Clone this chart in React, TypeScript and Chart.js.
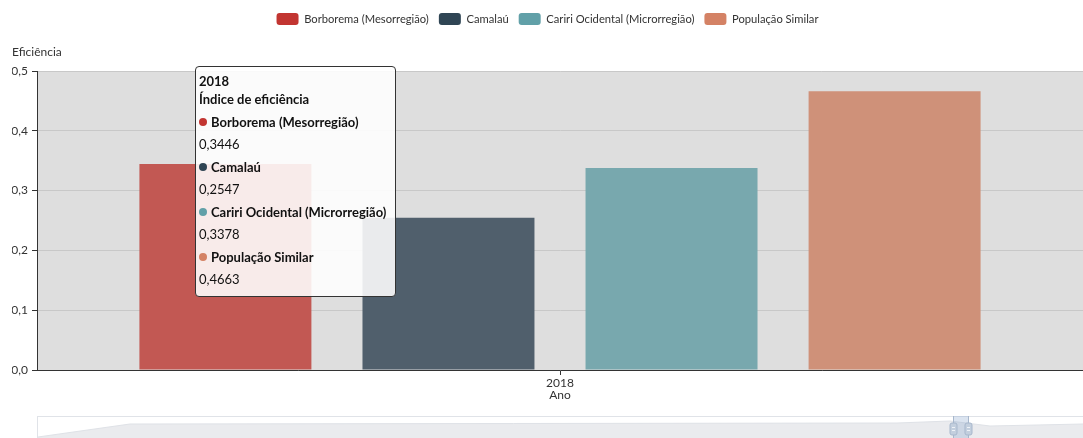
import React, { useEffect, useRef } from "react";
import { Chart, registerables } from "chart.js";

Chart.register(...registerables);

// ---- data ----
const categories = ["2018"];
const seriesNames = [
  "Borborema (Mesorregião)",
  "Camalaú",
  "Cariri Ocidental (Microrregião)",
  "População Similar",
];
const borboremaValues = [0.3446];
const camalauValues = [0.2547];
const caririValues = [0.3378];
const populacaoValues = [0.4663];
const yTickValues = [0, 0.1, 0.2, 0.3, 0.4, 0.5];
const yAxisName = "Eficiência";
const xAxisName = "Ano";
const tooltipSubtitle = "Índice de eficiência";

// ---- styles ----
const barColors = ["#c25853", "#505f6c", "#78a8ae", "#cf9179"];
const legendColors = ["#c23531", "#2f4554", "#61a0a8", "#d48265"];
const FONT = "Lato, 'Noto Sans', sans-serif";
const W = 1083;
const H = 438;

const fmt1 = (v: number) => v.toFixed(1).replace(".", ",");
const fmt4 = (v: number) => v.toFixed(4).replace(".", ",");

const plotBg = {
  id: "plotBg",
  beforeDraw(chart: any) {
    const { ctx, chartArea: a } = chart;
    ctx.save();
    ctx.fillStyle = "#dedede";
    ctx.fillRect(a.left, a.top, a.right - a.left, a.bottom - a.top);
    ctx.restore();
  },
};

const slider = {
  id: "slider",
  afterDraw(chart: any) {
    const { ctx, chartArea: a } = chart;
    const left = a.left;
    const right = chart.width;
    const top = a.bottom + 46;
    const bottom = chart.height;
    ctx.save();
    // frame
    ctx.fillStyle = "#ffffff";
    ctx.fillRect(left, top, right - left, bottom - top);
    ctx.strokeStyle = "#e0e3e8";
    ctx.lineWidth = 1;
    ctx.strokeRect(left + 0.5, top + 0.5, right - left + 2, bottom - top + 2);
    // data shadow
    const pts: [number, number][] = [
      [left + 1, bottom - 1],
      [left + 93, top + 8],
      [left + 860, top + 7],
      [left + 913, top + 5],
      [left + 953, top + 10],
      [right, top + 8],
    ];
    ctx.beginPath();
    ctx.moveTo(pts[0][0], pts[0][1]);
    for (const p of pts) ctx.lineTo(p[0], p[1]);
    ctx.lineTo(right, bottom);
    ctx.lineTo(left + 1, bottom);
    ctx.closePath();
    ctx.fillStyle = "#eaebee";
    ctx.fill();
    ctx.beginPath();
    ctx.moveTo(pts[0][0], pts[0][1]);
    for (const p of pts) ctx.lineTo(p[0], p[1]);
    ctx.strokeStyle = "#dfe2e7";
    ctx.stroke();
    // selected window
    const h1 = left + 916;
    const h2 = left + 931;
    ctx.fillStyle = "rgba(135,165,205,0.3)";
    ctx.fillRect(h1, top, h2 - h1, bottom - top);
    for (const hx of [h1, h2]) {
      ctx.strokeStyle = "#a7b7cc";
      ctx.beginPath();
      ctx.moveTo(hx + 0.5, top);
      ctx.lineTo(hx + 0.5, bottom);
      ctx.stroke();
      ctx.fillStyle = "#c3cfde";
      ctx.strokeStyle = "#a7b7cc";
      ctx.beginPath();
      const rx = hx - 3;
      const ry = top + 7;
      ctx.roundRect(rx, ry, 7, 12, 2);
      ctx.fill();
      ctx.stroke();
      ctx.strokeStyle = "#eef2f7";
      ctx.beginPath();
      ctx.moveTo(rx + 2, ry + 4.5);
      ctx.lineTo(rx + 5, ry + 4.5);
      ctx.moveTo(rx + 2, ry + 7.5);
      ctx.lineTo(rx + 5, ry + 7.5);
      ctx.stroke();
    }
    ctx.restore();
  },
};

export default function App() {
  const canvasRef = useRef<HTMLCanvasElement | null>(null);
  const tipRef = useRef<HTMLDivElement | null>(null);

  useEffect(() => {
    const canvas = canvasRef.current!;
    const seriesData = [borboremaValues, camalauValues, caririValues, populacaoValues];

    const external = (context: any) => {
      const { chart, tooltip } = context;
      const el = tipRef.current;
      if (!el) return;
      if (tooltip.opacity === 0) {
        el.style.display = "none";
        return;
      }
      const titleLines: string[] = tooltip.title || [];
      let html = "";
      for (const t of titleLines) html += `<div style="font-weight:bold;line-height:18px">${t}</div>`;
      html += `<div style="font-weight:bold;line-height:18px">${tooltipSubtitle}</div>`;
      for (const dp of tooltip.dataPoints) {
        const c = legendColors[dp.datasetIndex];
        html += `<div style="font-weight:bold;line-height:18px;margin-top:5px;white-space:nowrap"><span style="display:inline-block;width:8px;height:8px;border-radius:50%;background:${c};margin-right:4px;vertical-align:1px"></span>${dp.dataset.label}</div>`;
        html += `<div style="line-height:18px;margin-top:4px">${fmt4(dp.raw as number)}</div>`;
      }
      el.innerHTML = html;
      const a = chart.chartArea;
      el.style.display = "block";
      el.style.left = a.left + 158 + "px";
      el.style.top = a.top - 5 + "px";
    };

    const chart = new Chart(canvas, {
      type: "bar",
      data: {
        labels: categories,
        datasets: seriesNames.map((name, i) => ({
          label: name,
          data: seriesData[i],
          backgroundColor: barColors[i],
          borderWidth: 0,
        })),
      },
      options: {
        responsive: false,
        animation: false,
        devicePixelRatio: 1,
        events: [],
        layout: { padding: { top: 3, left: 12, right: 0, bottom: 0 } },
        datasets: { bar: { categoryPercentage: 0.853, barPercentage: 0.771 } },
        interaction: { mode: "index", intersect: false },
        plugins: {
          legend: {
            position: "top",
            labels: {
              boxWidth: 22,
              boxHeight: 12,
              padding: 10,
              color: "#333",
              useBorderRadius: true,
              borderRadius: 3,
              font: { family: FONT, size: 11.2 },
              generateLabels: (c: any) =>
                c.data.datasets.map((ds: any, i: number) => ({
                  text: ds.label,
                  fillStyle: legendColors[i],
                  strokeStyle: legendColors[i],
                  lineWidth: 0,
                  hidden: false,
                  datasetIndex: i,
                  fontColor: "#333",
                  borderRadius: 3,
                })),
            },
          },
          title: {
            display: true,
            text: yAxisName,
            align: "start",
            weight: 500,
            color: "#333",
            font: { family: FONT, size: 12, weight: "normal" },
            padding: { top: 9.8, bottom: 11.8 },
          } as any,
          tooltip: { enabled: false, external, mode: "index", intersect: false },
        },
        scales: {
          x: {
            grid: {
              display: true,
              offset: false,
              drawOnChartArea: false,
              drawTicks: true,
              tickLength: 5,
              tickColor: "#333",
            },
            border: { display: true, color: "#333" },
            ticks: { color: "#333", padding: 1, font: { family: FONT, size: 12 } },
            title: {
              display: true,
              text: xAxisName,
              color: "#333",
              font: { family: FONT, size: 12 },
              padding: { top: 0, bottom: 36 },
            },
            afterFit: (s: any) => {
              s.height = 68;
            },
          },
          y: {
            min: 0,
            max: 0.5,
            afterBuildTicks: (s: any) => {
              s.ticks = yTickValues.map((v) => ({ value: v }));
            },
            ticks: {
              color: "#333",
              padding: 4,
              font: { family: FONT, size: 12 },
              callback: (v: any) => fmt1(Number(v)),
            },
            grid: { color: "#c8c8c8", tickColor: "#333", tickLength: 5 },
            border: { display: true, color: "#333" },
            afterFit: (s: any) => {
              s.width = 25;
            },
          },
        },
      } as any,
      plugins: [plotBg, slider],
    });

    chart.tooltip!.setActiveElements(
      seriesNames.map((_, i) => ({ datasetIndex: i, index: 0 })),
      { x: 180, y: 60 }
    );
    chart.update();

    return () => chart.destroy();
  }, []);

  return (
    <div style={{ position: "absolute", left: 0, top: 0, width: W, height: H, overflow: "hidden" }}>
      <canvas ref={canvasRef} width={W} height={H} style={{ display: "block" }} />
      <div
        ref={tipRef}
        style={{
          position: "absolute",
          display: "none",
          background: "rgba(255,255,255,0.88)",
          border: "1px solid #333",
          borderRadius: 4,
          padding: "5px 9px 8px 3px",
          fontFamily: FONT,
          fontSize: 13,
          color: "#111",
          pointerEvents: "none",
        }}
      />
    </div>
  );
}
